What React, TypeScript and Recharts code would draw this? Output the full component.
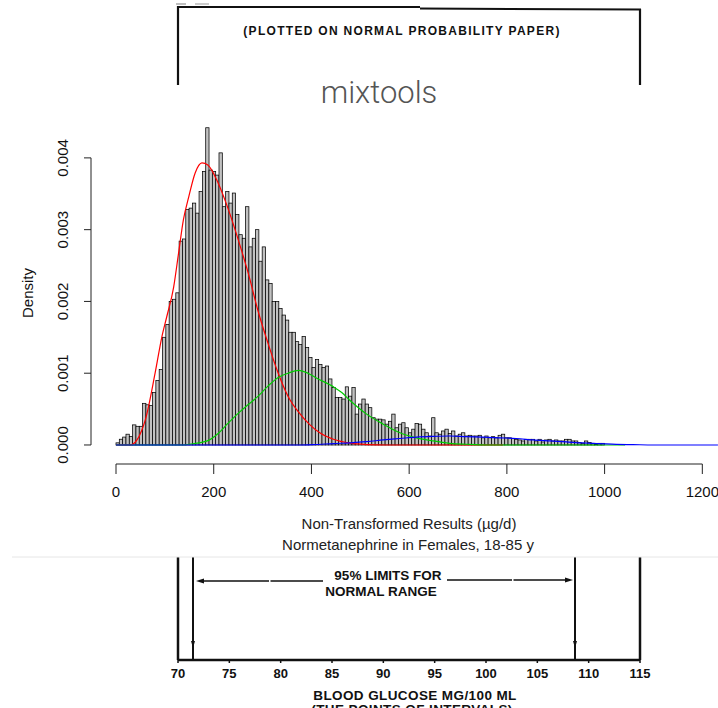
import { ComposedChart, Bar, Line, XAxis, YAxis, ReferenceLine } from 'recharts'

// histogram of normetanephrine results, bins of equal width starting at 0 (µg/d)
const BIN_WIDTH = 6.8
const binDensity = [
  0.03e-3, 0.08e-3, 0.11e-3, 0.15e-3, 0.12e-3, 0.28e-3, 0.26e-3, 0.26e-3, 0.58e-3, 0.56e-3,
  0.55e-3, 0.73e-3, 0.9e-3, 1.05e-3, 1.5e-3, 1.68e-3, 2.0e-3, 2.03e-3, 2.12e-3, 2.84e-3,
  2.87e-3, 3.28e-3, 3.3e-3, 3.37e-3, 3.23e-3, 3.53e-3, 3.81e-3, 4.42e-3, 3.83e-3, 3.81e-3,
  3.76e-3, 4.07e-3, 3.32e-3, 3.53e-3, 3.37e-3, 3.51e-3, 3.21e-3, 2.93e-3, 2.88e-3, 3.32e-3,
  2.76e-3, 2.88e-3, 3.0e-3, 2.56e-3, 2.76e-3, 2.3e-3, 2.25e-3, 2.0e-3, 2.0e-3, 1.9e-3,
  1.81e-3, 1.74e-3, 1.57e-3, 1.57e-3, 1.44e-3, 1.4e-3, 1.51e-3, 1.36e-3, 1.22e-3, 1.08e-3,
  1.19e-3, 1.12e-3, 1.08e-3, 1.1e-3, 0.92e-3, 0.8e-3, 0.66e-3, 0.66e-3, 0.64e-3, 0.81e-3,
  0.68e-3, 0.8e-3, 0.43e-3, 0.57e-3, 0.64e-3, 0.57e-3, 0.52e-3, 0.38e-3, 0.36e-3, 0.36e-3,
  0.35e-3, 0.29e-3, 0.33e-3, 0.43e-3, 0.24e-3, 0.29e-3, 0.31e-3, 0.24e-3, 0.17e-3, 0.22e-3,
  0.3e-3, 0.29e-3, 0.22e-3, 0.17e-3, 0.125e-3, 0.38e-3, 0.17e-3, 0.15e-3, 0.195e-3, 0.22e-3,
  0.16e-3, 0.195e-3, 0.125e-3, 0.15e-3, 0.17e-3, 0.125e-3, 0.135e-3, 0.125e-3, 0.125e-3, 0.135e-3,
  0.1e-3, 0.125e-3, 0.1e-3, 0.116e-3, 0.1e-3, 0.135e-3, 0.15e-3, 0.1e-3, 0.1e-3, 0.088e-3,
  0.079e-3, 0.07e-3, 0.056e-3, 0.079e-3, 0.079e-3, 0.079e-3, 0.056e-3, 0.079e-3, 0.042e-3, 0.07e-3,
  0.079e-3, 0.056e-3, 0.07e-3, 0.056e-3, 0.056e-3, 0.079e-3, 0.079e-3, 0.056e-3, 0.056e-3, 0.033e-3,
  0.023e-3, 0.056e-3, 0.033e-3, 0.023e-3, 0.009e-3, 0.023e-3, 0.023e-3
]

// fitted mixture components, [x, density]
const redCurve = [
  [0, 0], [29, 0], [43, 0.07e-3], [53, 0.21e-3], [60, 0.35e-3], [80, 1.0e-3], [94, 1.51e-3],
  [104, 1.79e-3], [118, 2.2e-3], [128, 2.67e-3], [138, 3.14e-3], [149, 3.46e-3], [162, 3.79e-3],
  [176, 3.93e-3], [188, 3.9e-3], [209, 3.65e-3], [229, 3.3e-3], [252, 2.82e-3], [272, 2.36e-3],
  [291, 1.86e-3], [311, 1.42e-3], [332, 1.0e-3], [352, 0.68e-3], [377, 0.43e-3], [397, 0.28e-3],
  [417, 0.17e-3], [445, 0.08e-3], [479, 0.025e-3], [513, 0.006e-3], [555, 0], [792, 0]
]
const greenCurve = [
  [0, 0], [134, 0], [160, 0.02e-3], [188, 0.06e-3], [209, 0.16e-3], [229, 0.3e-3], [250, 0.44e-3],
  [270, 0.56e-3], [291, 0.68e-3], [311, 0.82e-3], [332, 0.94e-3], [352, 1.0e-3], [374, 1.04e-3],
  [393, 1.0e-3], [411, 0.93e-3], [445, 0.81e-3], [462, 0.73e-3], [479, 0.62e-3], [513, 0.43e-3],
  [547, 0.29e-3], [581, 0.17e-3], [615, 0.1e-3], [649, 0.056e-3], [683, 0.023e-3], [717, 0.01e-3],
  [760, 0], [1042, 0]
]
const blueCurve = [
  [0, 0], [376, 0], [404, 0.005e-3], [445, 0.02e-3], [479, 0.03e-3], [513, 0.046e-3], [547, 0.07e-3],
  [581, 0.09e-3], [615, 0.11e-3], [649, 0.12e-3], [683, 0.125e-3], [717, 0.116e-3], [751, 0.11e-3],
  [785, 0.1e-3], [819, 0.09e-3], [854, 0.07e-3], [888, 0.056e-3], [922, 0.042e-3], [956, 0.028e-3],
  [990, 0.019e-3], [1024, 0.009e-3], [1058, 0.005e-3], [1100, 0], [1232, 0]
]

const xTicks = [0, 200, 400, 600, 800, 1000, 1200]
const yTicks = [0, 0.001, 0.002, 0.003, 0.004]

// scanned probability paper underneath
const glucoseTicks = [70, 75, 80, 85, 90, 95, 100, 105, 110, 115]
const glucoseFrame = [70, 115]
const normalLimits = [71.46, 108.67]

// layout
const W = 718
const PLOT_LEFT = 91
const PLOT_TOP = 122
const PLOT_BOTTOM = 464
const X_MIN = -51.17
const X_MAX = 1232.1
const Y_MIN = -0.000265
const Y_MAX = 0.0045
const PX_PER_UNIT = (W - PLOT_LEFT) / (X_MAX - X_MIN)

const SANS = '"Liberation Sans", Arial, sans-serif'
const INK = '#111'

const bins = binDensity.map((d, i) => ({ x: (i + 0.5) * BIN_WIDTH, d }))
const toPoints = (pts: number[][]) => pts.map(([x, d]) => ({ x, d }))
const glucoseData = glucoseTicks.map((g) => ({ g }))

const HistBar = (props: any) => {
  const { x, width, y, height } = props
  if (!height || height <= 0) return null
  const cx = x + width / 2
  const half = (BIN_WIDTH / 2) * PX_PER_UNIT
  return (
    <rect x={cx - half} y={y} width={half * 2} height={height}
      fill="#c2c2c2" stroke="#000" strokeWidth={0.75} />
  )
}

const XTick = ({ x, y, payload }: any) => (
  <text x={x} y={y + 21} textAnchor="middle" fontFamily={SANS} fontSize={15} fill="#111">
    {payload.value}
  </text>
)

const YTick = ({ y, payload }: any) => (
  <text x={68} y={y} transform={`rotate(-90, 68, ${y})`} textAnchor="middle"
    fontFamily={SANS} fontSize={15} fill="#111">
    {Number(payload.value).toFixed(3)}
  </text>
)

const GTick = ({ x, y, payload }: any) => (
  <text x={x} y={y + 13} textAnchor="middle" fontFamily={SANS} fontWeight="bold" fontSize={13} fill={INK}>
    {payload.value}
  </text>
)

export default function App() {
  return (
    <div style={{ position: 'absolute', left: 0, top: 0, width: W, height: 708, overflow: 'hidden', background: '#fff' }}>
      <div style={{ position: 'absolute', left: 0, top: 0 }}>
        <ComposedChart width={W} height={580} data={bins}
          margin={{ top: PLOT_TOP, right: 0, bottom: 0, left: 0 }} barCategoryGap={0} barGap={0}>
          <XAxis dataKey="x" type="number" domain={[X_MIN, X_MAX]} allowDataOverflow ticks={xTicks}
            interval={0} axisLine={false} tickSize={10} tickLine={{ stroke: '#222' }}
            height={580 - PLOT_BOTTOM} tick={XTick} />
          <YAxis type="number" domain={[Y_MIN, Y_MAX]} allowDataOverflow ticks={yTicks} interval={0}
            axisLine={false} tickSize={7} tickLine={{ stroke: '#222' }} width={PLOT_LEFT} tick={YTick} />
          <Bar dataKey="d" shape={HistBar} isAnimationActive={false} />
          <Line data={toPoints(redCurve)} dataKey="d" type="monotone" stroke="#ff0000" strokeWidth={1.2}
            dot={false} isAnimationActive={false} />
          <Line data={toPoints(greenCurve)} dataKey="d" type="monotone" stroke="#00cd00" strokeWidth={1.2}
            dot={false} isAnimationActive={false} />
          <Line data={toPoints(blueCurve)} dataKey="d" type="monotone" stroke="#0000ff" strokeWidth={1.2}
            dot={false} isAnimationActive={false} />
          {/* R style axis lines, only over the tick range */}
          <ReferenceLine segment={[{ x: 0, y: Y_MIN }, { x: 1200, y: Y_MIN }]} stroke="#222" ifOverflow="visible" />
          <ReferenceLine segment={[{ x: X_MIN, y: 0 }, { x: X_MIN, y: 0.004 }]} stroke="#222" ifOverflow="visible" />
        </ComposedChart>
      </div>

      <div style={{ position: 'absolute', left: 0, top: 557 }}>
        <ComposedChart width={W} height={151} data={glucoseData} margin={{ top: 0, right: 78, bottom: 0, left: 178 }}>
          <XAxis dataKey="g" type="number" domain={[70, 115]} ticks={glucoseTicks} interval={0} height={48}
            axisLine={{ stroke: INK, strokeWidth: 2.5 }} tickSize={3} tickLine={{ stroke: INK, strokeWidth: 1.5 }}
            tick={GTick} />
          <YAxis hide domain={[0, 1]} />
          {/* invisible series so the chart registers its axes */}
          <Line dataKey="g" stroke="none" dot={false} activeDot={false} legendType="none"
            isAnimationActive={false} />
          {glucoseFrame.map((v) => (
            <ReferenceLine key={v} x={v} stroke={INK} strokeWidth={2.5} ifOverflow="visible" />
          ))}
          {normalLimits.map((v) => (
            <ReferenceLine key={v} x={v} stroke={INK} strokeWidth={2} ifOverflow="visible" />
          ))}
        </ComposedChart>
      </div>

      <svg width={W} height={708} style={{ position: 'absolute', left: 0, top: 0, pointerEvents: 'none' }}>
        {/* top of the scanned page */}
        <line x1={176} y1={4} x2={186} y2={4} stroke="#aaa" strokeWidth={1.5} />
        <line x1={195} y1={4} x2={209} y2={4} stroke="#bbb" strokeWidth={1.5} />
        <line x1={177} y1={7} x2={420} y2={7} stroke={INK} strokeWidth={2} />
        <line x1={420} y1={8.5} x2={641} y2={9.5} stroke={INK} strokeWidth={2} />
        <line x1={178} y1={6} x2={178} y2={85} stroke={INK} strokeWidth={2.2} />
        <line x1={640} y1={9} x2={640} y2={85} stroke={INK} strokeWidth={2.2} />
        <text x={402} y={35} textAnchor="middle" fontFamily={SANS} fontWeight="bold" fontSize={12}
          letterSpacing={1.3} fill={INK}>(PLOTTED ON NORMAL PROBABILITY PAPER)</text>

        <text x={379} y={103} textAnchor="middle" fontFamily="Roboto, 'Open Sans', sans-serif" fontWeight={300}
          fontSize={31} fill="#555">mixtools</text>

        <text x={33} y={293} transform="rotate(-90, 33, 293)" textAnchor="middle" fontFamily={SANS}
          fontSize={15} fill="#111">Density</text>
        <text x={409} y={529} textAnchor="middle" fontFamily={SANS} fontSize={15} fill="#222">
          Non-Transformed Results (µg/d)
        </text>
        <text x={408} y={550} textAnchor="middle" fontFamily={SANS} fontSize={15} fill="#222">
          Normetanephrine in Females, 18-85 y
        </text>
        <line x1={12} y1={557} x2={W} y2={557} stroke="#e6e6e6" strokeWidth={1} />

        {/* bottom of the scanned page */}
        <text x={388} y={580} textAnchor="middle" fontFamily={SANS} fontWeight="bold" fontSize={13.5} fill={INK}>
          95% LIMITS FOR
        </text>
        <text x={381} y={596} textAnchor="middle" fontFamily={SANS} fontWeight="bold" fontSize={13.5} fill={INK}>
          NORMAL RANGE
        </text>
        <line x1={199} y1={581} x2={323} y2={581} stroke={INK} strokeWidth={1.3} strokeDasharray="70 1.5 60" />
        <path d="M196,581 L204,578.5 L204,583.5 Z" fill={INK} />
        <line x1={447} y1={580} x2={570} y2={580} stroke={INK} strokeWidth={1.3} strokeDasharray="65 1.5 60" />
        <path d="M573,580 L565,577.5 L565,582.5 Z" fill={INK} />
        <path d="M193,648 L191,641 L195,641 Z" fill={INK} />
        <path d="M575,648 L573,641 L577,641 Z" fill={INK} />
        <text x={415} y={700} textAnchor="middle" fontFamily={SANS} fontWeight="bold" fontSize={13.5}
          letterSpacing={0.4} fill={INK}>BLOOD GLUCOSE MG/100 ML</text>
        <text x={412} y={714} textAnchor="middle" fontFamily={SANS} fontWeight="bold" fontSize={13.5}
          letterSpacing={0.4} fill={INK}>(THE POINTS OF INTERVALS)</text>
      </svg>
    </div>
  )
}
